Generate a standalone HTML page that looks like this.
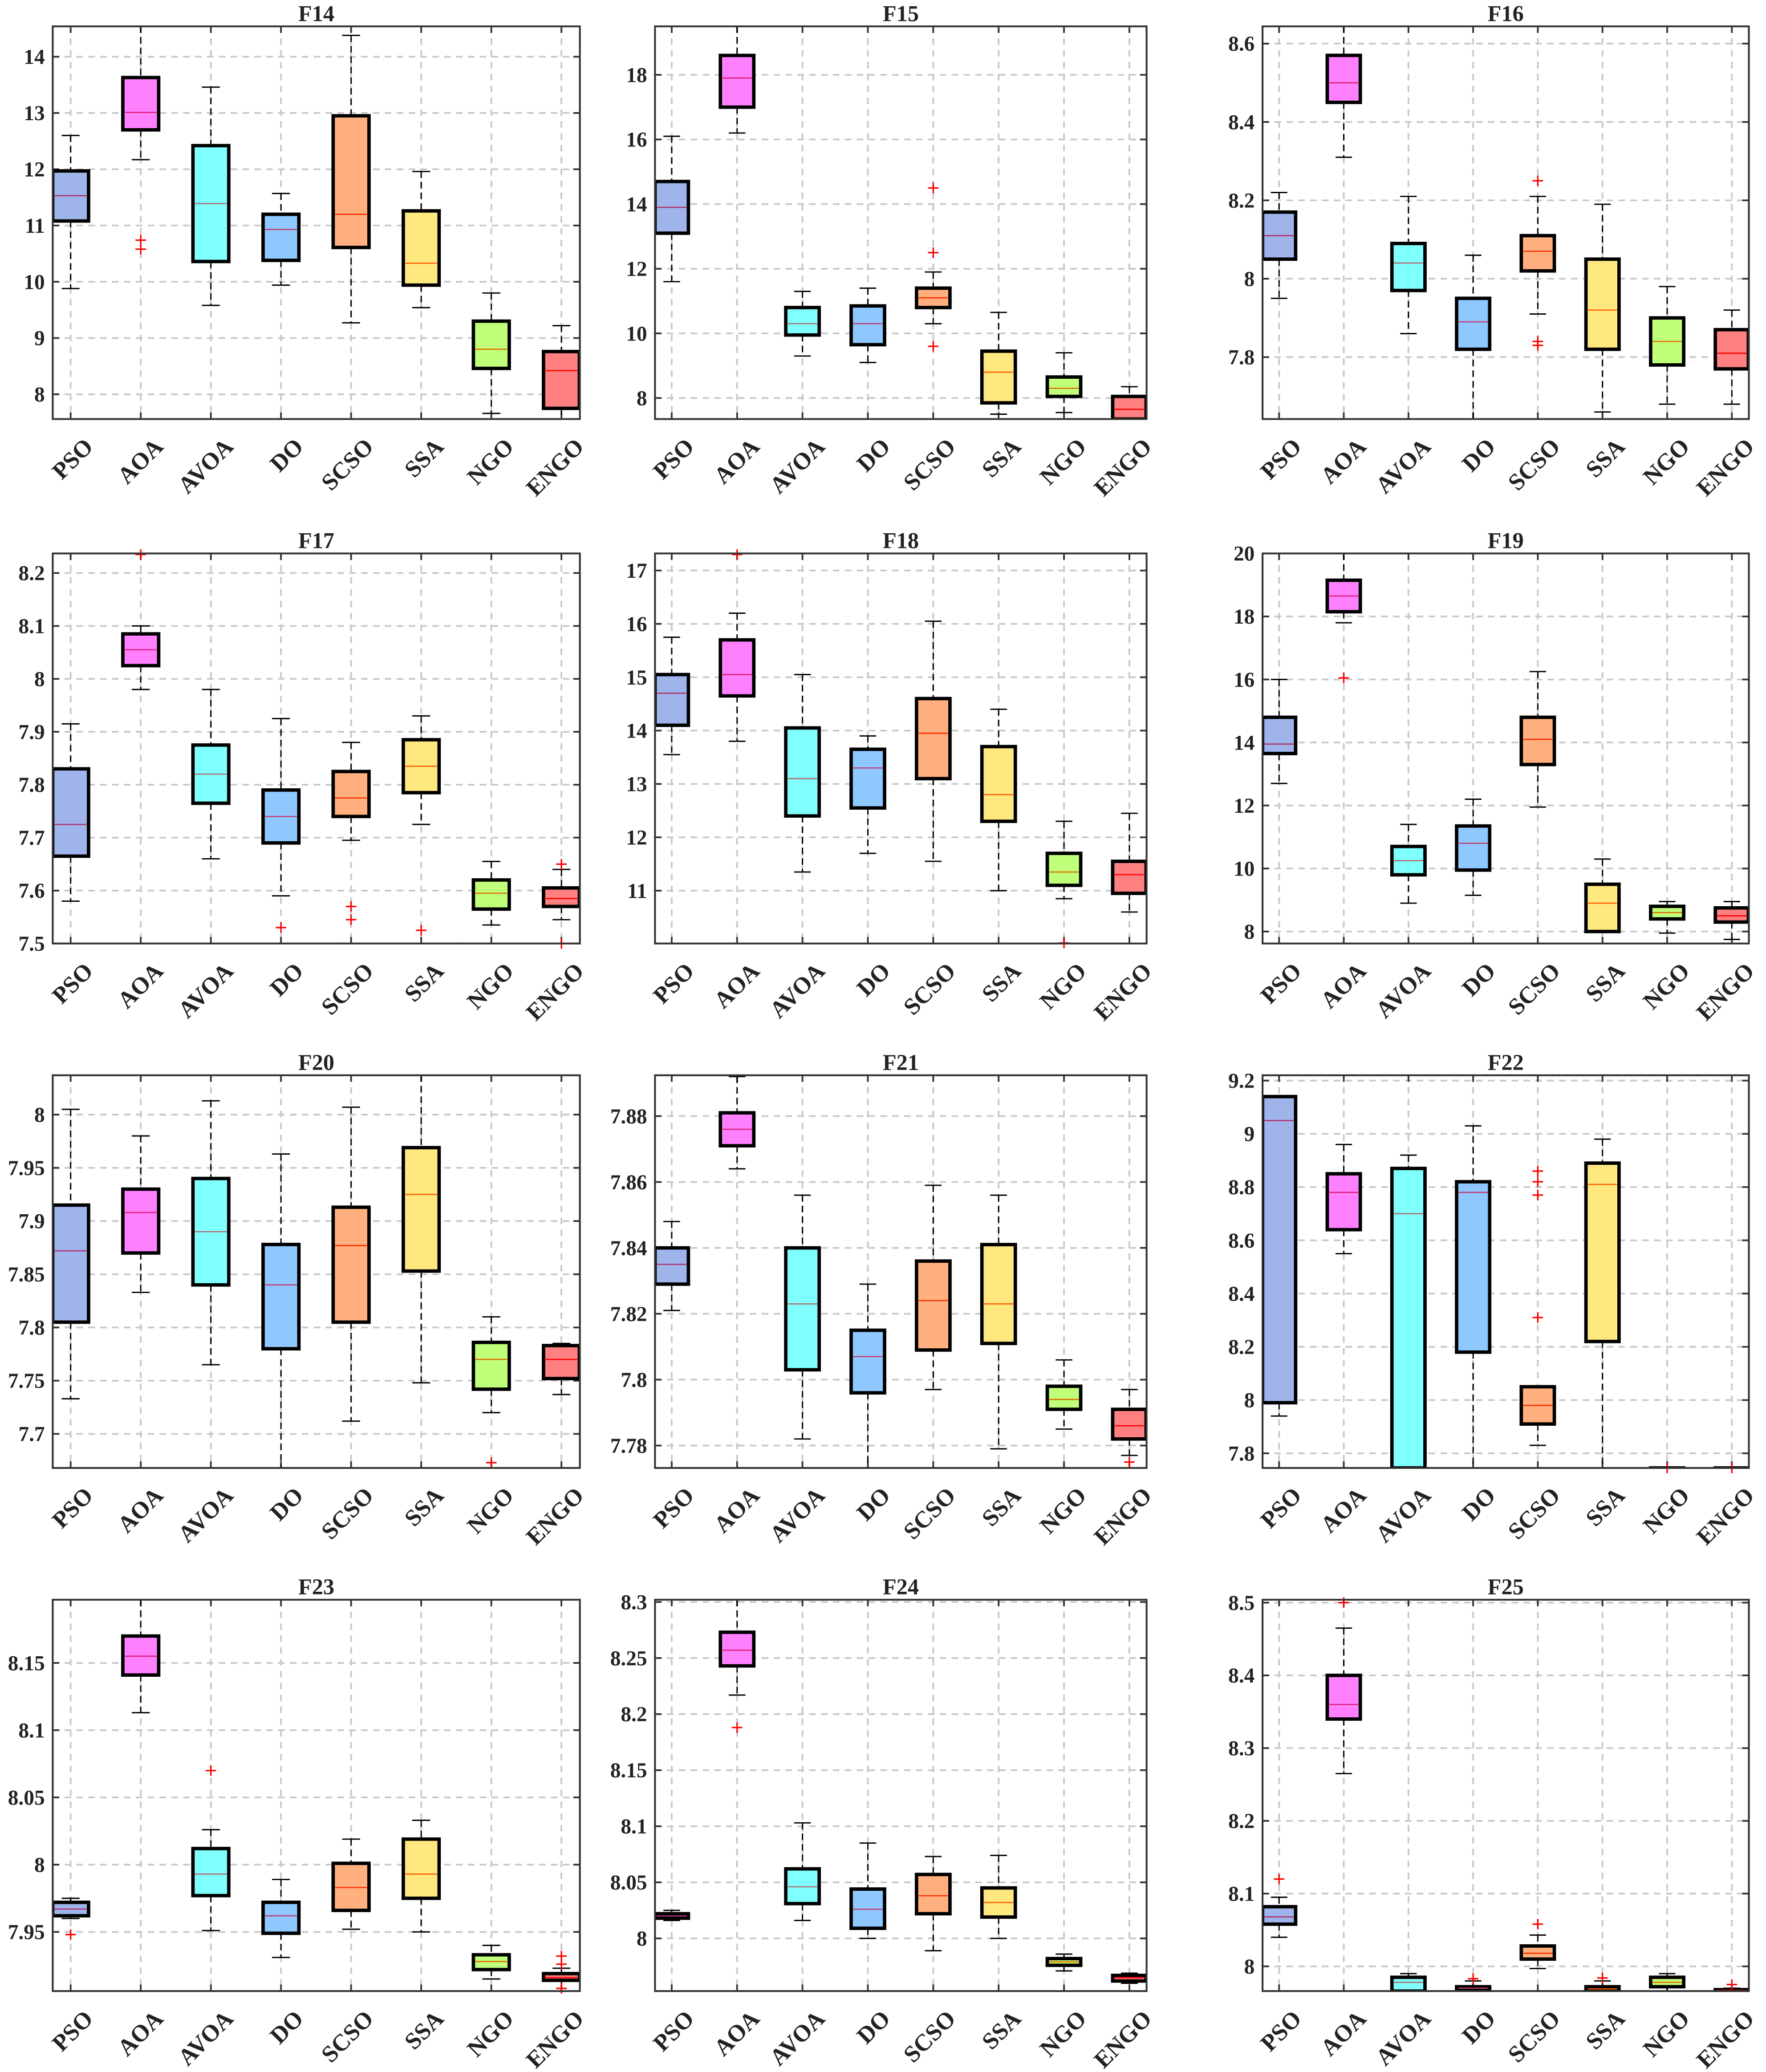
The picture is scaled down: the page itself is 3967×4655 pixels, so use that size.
<!DOCTYPE html>
<html><head><meta charset="utf-8"><style>
html,body{margin:0;padding:0;background:#fff;}
svg{display:block;}
text{font-family:"Liberation Serif",serif;font-weight:bold;fill:#222;}
</style></head><body>
<svg id="fig" width="3967" height="4655" viewBox="0 0 1340 1572.4" preserveAspectRatio="none" xmlns="http://www.w3.org/2000/svg"></svg>
<script>
const categories = ["PSO","AOA","AVOA","DO","SCSO","SSA","NGO","ENGO"];
const boxColors = ["#a0b4ec","#ff80ff","#80ffff","#8fc7ff","#ffb07e","#ffe880","#c0ff7a","#ff8080"];
const medColors = ["#b0306a","#e0207a","#b07070","#c04070","#ff3000","#ff6000","#e07000","#ff0000"];
const titles = ["F14","F15","F16","F17","F18","F19","F20","F21","F22","F23","F24","F25"];
const yRanges = [[7.56,14.54],[7.35,19.5],[7.642,8.644],[7.5,8.237],[10.01,17.32],[7.62,20],[7.668,8.037],[7.7732,7.8924],[7.745,9.22],[7.906,8.197],[7.953,8.302],[7.966,8.504]];
const yTicks = [[8,9,10,11,12,13,14],[8,10,12,14,16,18],[7.8,8,8.2,8.4,8.6],[7.5,7.6,7.7,7.8,7.9,8,8.1,8.2],[11,12,13,14,15,16,17],[8,10,12,14,16,18,20],[7.7,7.75,7.8,7.85,7.9,7.95,8],[7.78,7.8,7.82,7.84,7.86,7.88],[7.8,8,8.2,8.4,8.6,8.8,9,9.2],[7.95,8,8.05,8.1,8.15],[8,8.05,8.1,8.15,8.2,8.25,8.3],[8,8.1,8.2,8.3,8.4,8.5]];
// each box: [whiskerLow, q1, median, q3, whiskerHigh]
const f14 = [[9.88,11.08,11.53,11.97,12.6],[12.17,12.7,13.01,13.63,14.54],[9.58,10.36,11.39,12.42,13.46],[9.94,10.38,10.93,11.2,11.57],[9.27,10.61,11.2,12.95,14.38],[9.54,9.94,10.33,11.26,11.96],[7.66,8.46,8.8,9.3,9.8],[7.56,7.75,8.42,8.76,9.22]];
const f15 = [[11.6,13.1,13.9,14.7,16.1],[16.2,17.0,17.9,18.6,19.5],[9.3,9.95,10.3,10.8,11.3],[9.1,9.65,10.3,10.85,11.4],[10.3,10.8,11.1,11.4,11.9],[7.5,7.85,8.8,9.45,10.65],[7.55,8.05,8.3,8.65,9.4],[7.35,7.35,7.65,8.05,8.35]];
const f16 = [[7.95,8.05,8.11,8.17,8.22],[8.31,8.45,8.5,8.57,8.644],[7.86,7.97,8.04,8.09,8.21],[7.642,7.82,7.89,7.95,8.06],[7.91,8.02,8.07,8.11,8.21],[7.66,7.82,7.92,8.05,8.19],[7.68,7.78,7.84,7.9,7.98],[7.68,7.77,7.81,7.87,7.92]];
const f17 = [[7.58,7.665,7.725,7.83,7.915],[7.98,8.025,8.055,8.085,8.1],[7.66,7.765,7.82,7.875,7.98],[7.59,7.69,7.74,7.79,7.925],[7.695,7.74,7.775,7.825,7.88],[7.725,7.785,7.835,7.885,7.93],[7.535,7.565,7.595,7.62,7.655],[7.545,7.57,7.585,7.605,7.64]];
const f18 = [[13.55,14.1,14.7,15.05,15.75],[13.8,14.65,15.05,15.7,16.2],[11.35,12.4,13.1,14.05,15.05],[11.7,12.55,13.3,13.65,13.9],[11.55,13.1,13.95,14.6,16.05],[11.0,12.3,12.8,13.7,14.4],[10.85,11.1,11.35,11.7,12.3],[10.6,10.95,11.3,11.55,12.45]];
const f19 = [[12.7,13.65,13.95,14.8,16.0],[17.8,18.15,18.65,19.15,20],[8.9,9.8,10.25,10.7,11.4],[9.15,9.95,10.8,11.35,12.2],[11.95,13.3,14.1,14.8,16.25],[8.0,8.0,8.9,9.5,10.3],[7.95,8.4,8.6,8.8,8.95],[7.75,8.3,8.5,8.75,8.95]];
const f20 = [[7.733,7.805,7.872,7.915,8.005],[7.833,7.87,7.908,7.93,7.98],[7.765,7.84,7.89,7.94,8.013],[7.668,7.78,7.84,7.878,7.963],[7.712,7.805,7.877,7.913,8.007],[7.748,7.853,7.925,7.969,8.037],[7.72,7.742,7.77,7.786,7.81],[7.737,7.752,7.77,7.783,7.785]];
const f21 = [[7.821,7.829,7.835,7.84,7.848],[7.864,7.871,7.876,7.881,7.892],[7.782,7.803,7.823,7.84,7.856],[7.773,7.796,7.807,7.815,7.829],[7.797,7.809,7.824,7.836,7.859],[7.779,7.811,7.823,7.841,7.856],[7.785,7.791,7.794,7.798,7.806],[7.777,7.782,7.786,7.791,7.797]];
const f22 = [[7.94,7.99,9.05,9.14,9.14],[8.55,8.64,8.78,8.85,8.96],[7.745,7.745,8.7,8.87,8.92],[7.745,8.18,8.78,8.82,9.03],[7.83,7.91,7.98,8.05,8.05],[7.745,8.22,8.81,8.89,8.98],[7.745,7.745,7.745,7.745,7.745],[7.745,7.745,7.745,7.745,7.745]];
const f23 = [[7.96,7.962,7.967,7.972,7.975],[8.113,8.141,8.155,8.17,8.197],[7.951,7.977,7.993,8.012,8.026],[7.931,7.949,7.962,7.972,7.989],[7.952,7.966,7.983,8.001,8.019],[7.95,7.975,7.993,8.019,8.033],[7.915,7.922,7.928,7.933,7.94],[7.906,7.914,7.916,7.919,7.923]];
const f24 = [[8.016,8.018,8.02,8.022,8.025],[8.217,8.243,8.257,8.273,8.302],[8.016,8.031,8.046,8.062,8.103],[8.0,8.009,8.026,8.044,8.085],[7.989,8.022,8.038,8.057,8.073],[8.0,8.019,8.032,8.045,8.074],[7.971,7.976,7.979,7.982,7.986],[7.96,7.962,7.965,7.967,7.969]];
const f25 = [[8.04,8.058,8.068,8.082,8.095],[8.265,8.34,8.36,8.4,8.465],[7.966,7.966,7.978,7.985,7.99],[7.966,7.968,7.97,7.972,7.98],[7.997,8.01,8.018,8.028,8.043],[7.966,7.967,7.969,7.972,7.98],[7.966,7.972,7.978,7.985,7.99],[7.966,7.966,7.967,7.968,7.97]];
// outliers: [categoryIndex, value]
const o14 = [[1,10.58],[1,10.74]];
const o15 = [[4,14.5],[4,12.5],[4,9.6]];
const o16 = [[4,8.25],[4,7.84],[4,7.83]];
const o17 = [[1,8.235],[3,7.53],[4,7.57],[4,7.545],[5,7.525],[7,7.65],[7,7.5]];
const o18 = [[1,17.3],[6,10.02]];
const o19 = [[1,16.05]];
const o20 = [[6,7.673]];
const o21 = [[7,7.775]];
const o22 = [[4,8.86],[4,8.82],[4,8.77],[4,8.31],[6,7.745],[7,7.745]];
const o23 = [[0,7.948],[2,8.07],[7,7.932],[7,7.926],[7,7.908]];
const o24 = [[1,8.188]];
const o25 = [[0,8.12],[1,8.5],[3,7.983],[4,8.058],[5,7.984],[7,7.975]];
const allStats = [f14,f15,f16,f17,f18,f19,f20,f21,f22,f23,f24,f25];
const allOut = [o14,o15,o16,o17,o18,o19,o20,o21,o22,o23,o24,o25];

const NS="http://www.w3.org/2000/svg";
const svg=document.getElementById('fig');
const cols=[[40,440],[497,870],[958,1327]];
const rows=[[20,318],[420,716],[816,1114],[1214,1511]];
function mk(tag,attrs,parent){const e=document.createElementNS(NS,tag);for(const k in attrs)e.setAttribute(k,attrs[k]);parent.appendChild(e);return e;}

allStats.forEach((stats,p)=>{
  const [x0,x1]=cols[p%3],[y0,y1]=rows[Math.floor(p/3)];
  const [ymin,ymax]=yRanges[p];
  const W=x1-x0;
  const yS=v=>y1-(v-ymin)/(ymax-ymin)*(y1-y0);
  const xS=i=>x0+W*(0.034+0.133*i);
  const hw=W*0.034;
  const g=mk('g',{},svg);
  
  
  const clip=mk('clipPath',{id:'c'+p},g);
  mk('rect',{x:x0,y:y0,width:W,height:y1-y0},clip);
  const t=mk('text',{x:(x0+x1)/2,y:y0-4,'text-anchor':'middle','font-size':17},g);
  t.textContent=titles[p];
  
  
  yTicks[p].forEach(v=>{
    const y=yS(v);
    const gl=mk('line',{x1:x0,x2:x1,y1:y,y2:y,stroke:'#c8c8c8','stroke-width':1.3,'stroke-dasharray':'5,4'},g);
    
    
    mk('line',{x1:x0,x2:x0+5,y1:y,y2:y,stroke:'#333','stroke-width':1.3},g);
    mk('line',{x1:x1-5,x2:x1,y1:y,y2:y,stroke:'#333','stroke-width':1.3},g);
    const tl=mk('text',{x:x0-6,y:y+5.5,'text-anchor':'end','font-size':16},g);
    tl.textContent=String(v);
    
    
  });
  categories.forEach((c,i)=>{
    const x=xS(i);
    const gl=mk('line',{x1:x,x2:x,y1:y0,y2:y1,stroke:'#c8c8c8','stroke-width':1.3,'stroke-dasharray':'5,4'},g);
    
    
    mk('line',{x1:x,x2:x,y1:y1-5,y2:y1,stroke:'#333','stroke-width':1.3},g);
    mk('line',{x1:x,x2:x,y1:y0,y2:y0+5,stroke:'#333','stroke-width':1.3},g);
    const tx=x+18,ty=y1+22;
    const lb=mk('text',{x:tx,y:ty,'text-anchor':'end','font-size':18,transform:`rotate(-45 ${tx} ${ty})`},g);
    lb.textContent=c;
    
    
  });
  const bg=mk('g',{'clip-path':`url(#c${p})`},g);
  stats.forEach((s,i)=>{
    const x=xS(i);
    const [lo,q1,md,q3,hi]=s;
    const bx=mk('g',{},bg);
    
    
    mk('line',{x1:x,x2:x,y1:yS(hi),y2:yS(q3),stroke:'#000','stroke-width':1,'stroke-dasharray':'5,3'},bx);
    mk('line',{x1:x,x2:x,y1:yS(q1),y2:yS(lo),stroke:'#000','stroke-width':1,'stroke-dasharray':'5,3'},bx);
    mk('line',{x1:x-hw/2,x2:x+hw/2,y1:yS(hi),y2:yS(hi),stroke:'#000','stroke-width':1},bx);
    mk('line',{x1:x-hw/2,x2:x+hw/2,y1:yS(lo),y2:yS(lo),stroke:'#000','stroke-width':1},bx);
    const top=yS(q3),bot=yS(q1);
    mk('rect',{x:x-hw,y:top,width:2*hw,height:Math.max(bot-top,0.5),fill:boxColors[i],stroke:'#000','stroke-width':2.6},bx);
    mk('line',{x1:x-hw+1.5,x2:x+hw-1.5,y1:yS(md),y2:yS(md),stroke:medColors[i],'stroke-width':0.9},bx);
  });
  allOut[p].forEach(([i,v])=>{
    const x=xS(i),y=yS(v);
    const o=mk('path',{d:`M${x-4} ${y}H${x+4}M${x} ${y-4}V${y+4}`,stroke:'#ff0000','stroke-width':1.1,fill:'none'},g);
    
    
  });
  const fr=mk('rect',{x:x0,y:y0,width:W,height:y1-y0,fill:'none',stroke:'#333','stroke-width':1.4},g);
  
  
});
</script>
</body></html>
